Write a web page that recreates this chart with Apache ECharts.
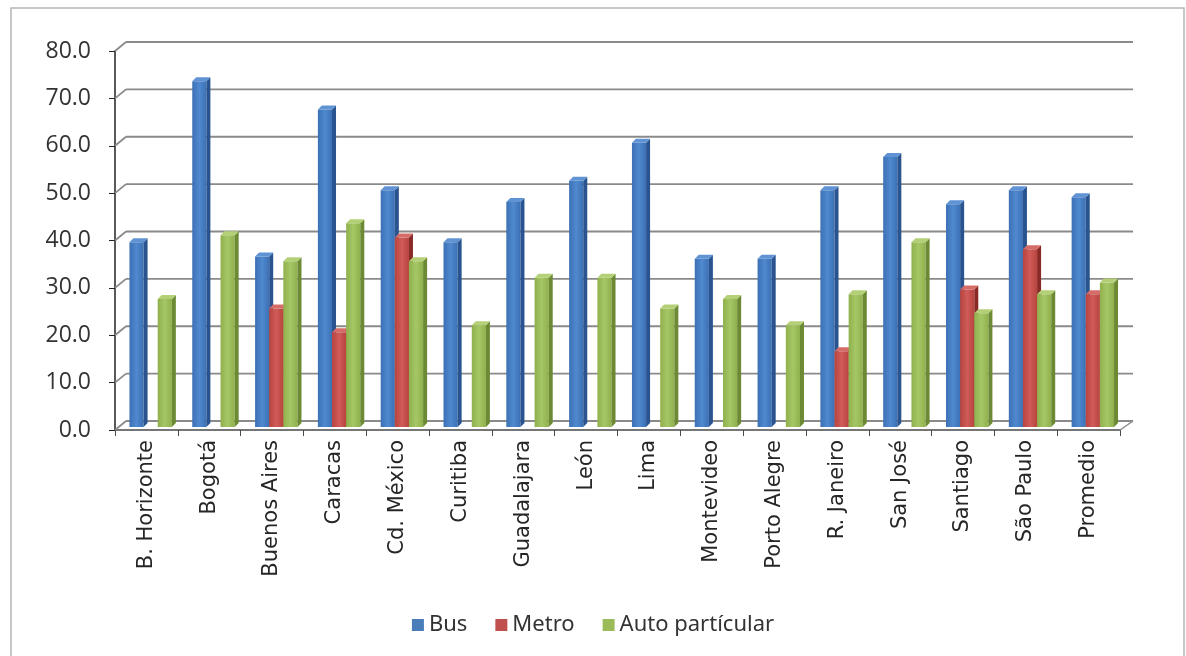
<!DOCTYPE html>
<html>
<head>
<meta charset="utf-8">
<script src="https://cdn.jsdelivr.net/npm/echarts@6/dist/echarts.min.js"></script>
<style>
html,body{margin:0;padding:0;background:#fff;}
#chart{width:1186px;height:656px;}
</style>
</head>
<body>
<div id="chart"></div>
<script>
const categories = ['B. Horizonte','Bogotá','Buenos Aires','Caracas','Cd. México','Curitiba','Guadalajara','León','Lima','Montevideo','Porto Alegre','R. Janeiro','San José','Santiago','São Paulo','Promedio'];
const busData   = [39, 73, 36, 67, 50, 39, 47.5, 52, 60, 35.5, 35.5, 50, 57, 47, 50, 48.5];
const metroData = [null, null, 25, 20, 40, null, null, null, null, null, null, 16, null, 29, 37.5, 28];
const autoData  = [27, 40.5, 35, 43, 35, 21.5, 31.5, 31.5, 25, 27, 21.5, 28, 39, 24, 28, 30.5];
const yTicks = [0, 10, 20, 30, 40, 50, 60, 70, 80];
const seriesNames = ['Bus', 'Metro', 'Auto partícular'];

const palettes = [
  {front: ['#3c70b4', '#5089cf'], side: '#2a5490', top: '#5f93d3', legend: '#4a7ebb'},
  {front: ['#b8433f', '#cf5c58'], side: '#8a2a27', top: '#d56c68', legend: '#c0504d'},
  {front: ['#8fb04c', '#a6c766'], side: '#6c8a33', top: '#b3d076', legend: '#9bbb59'}
];

const WALL_DX = 11, WALL_DY = -9;
const BAR_SHIFT_Y = -3, DEPTH_X = 4, DEPTH_Y = -4;

function barRenderer(k) {
  const pal = palettes[k];
  return function (params, api) {
    const v = api.value(1);
    if (v === null || v === undefined || isNaN(v)) return null;
    const idx = api.value(0);
    const top = api.coord([idx, v]);
    const base = api.coord([idx, 0]);
    const band = api.size([1, 0])[0];
    const w = band * 0.225;
    const x0 = top[0] - band * 0.27 + k * w;
    const x1 = x0 + w;
    const yt = top[1] + BAR_SHIFT_Y;
    const yb = base[1] + BAR_SHIFT_Y;
    return {
      type: 'group',
      children: [
        {type: 'rect', shape: {x: x0, y: yt, width: w, height: yb - yt},
          style: {fill: new echarts.graphic.LinearGradient(0, 0, 1, 0, [
            {offset: 0, color: pal.front[0]}, {offset: 0.5, color: pal.front[1]}, {offset: 1, color: pal.front[0]}])}},
        {type: 'polygon', shape: {points: [[x1, yt], [x1 + DEPTH_X, yt + DEPTH_Y], [x1 + DEPTH_X, yb + DEPTH_Y], [x1, yb]]},
          style: {fill: pal.side}},
        {type: 'polygon', shape: {points: [[x0, yt], [x0 + DEPTH_X, yt + DEPTH_Y], [x1 + DEPTH_X, yt + DEPTH_Y], [x1, yt]]},
          style: {fill: pal.top}}
      ]
    };
  };
}

function wallRenderer(params, api) {
  const cs = params.coordSys;
  const y = api.coord([0, api.value(1)])[1];
  const xl = cs.x, xr = cs.x + cs.width;
  const children = [
    {type: 'line', shape: {x1: xl, y1: y, x2: xl + WALL_DX, y2: y + WALL_DY},
      style: {stroke: '#8a8a8a', lineWidth: 1.8}},
    {type: 'line', shape: {x1: xl + WALL_DX, y1: y + WALL_DY, x2: xr + WALL_DX + 2, y2: y + WALL_DY},
      style: {stroke: '#8a8a8a', lineWidth: 1.8}}
  ];
  if (api.value(1) === 0) {
    children.push({type: 'line', shape: {x1: xr, y1: y, x2: xr + WALL_DX + 2, y2: y + WALL_DY},
      style: {stroke: '#8a8a8a', lineWidth: 1.5}});
  }
  return {type: 'group', children: children};
}

function toPairs(arr) { return arr.map((v, i) => [i, v]); }

const chart = echarts.init(document.getElementById('chart'), null, {renderer: 'canvas'});
const option = {
  backgroundColor: '#ffffff',
  animation: false,
  graphic: [{
    type: 'rect', shape: {x: 11, y: 8, width: 1173, height: 700},
    style: {fill: 'none', stroke: '#b5b5b5', lineWidth: 1.5}, silent: true
  }],
  grid: {left: 115, right: 66, top: 51, bottom: 226, containLabel: false},
  legend: {
    data: seriesNames.map((n, i) => ({name: n, itemStyle: {color: palettes[i].legend}})),
    icon: 'rect', itemWidth: 12, itemHeight: 12, itemGap: 28,
    left: 'center', top: 609,
    textStyle: {fontSize: 22, color: '#333', fontFamily: '"Liberation Sans Narrow", "Noto Sans", sans-serif'}
  },
  xAxis: {
    type: 'category', data: categories,
    axisLine: {lineStyle: {color: '#4a4a4a', width: 1.5}},
    axisTick: {show: true, length: 6, lineStyle: {color: '#4a4a4a'}},
    axisLabel: {rotate: 90, interval: 0, fontSize: 21, color: '#262626', margin: 10,
      fontFamily: '"DejaVu Sans", Verdana, sans-serif'},
    splitLine: {show: false}
  },
  yAxis: {
    type: 'value', min: 0, max: 80, interval: 10,
    axisLine: {show: true, lineStyle: {color: '#222', width: 1.5}},
    axisTick: {show: true, length: 6, lineStyle: {color: '#222'}},
    axisLabel: {formatter: v => v.toFixed(1), fontSize: 23, color: '#333', margin: 24,
      fontFamily: '"Open Sans", sans-serif'},
    splitLine: {show: false}
  },
  series: [
    {type: 'custom', name: '_walls', renderItem: wallRenderer, data: yTicks.map(v => [0, v]),
      encode: {x: 0, y: 1}, silent: true, z: 1},
    {type: 'custom', name: seriesNames[0], renderItem: barRenderer(0), data: toPairs(busData),
      encode: {x: 0, y: 1}, itemStyle: {color: palettes[0].legend}, z: 3},
    {type: 'custom', name: seriesNames[1], renderItem: barRenderer(1), data: toPairs(metroData),
      encode: {x: 0, y: 1}, itemStyle: {color: palettes[1].legend}, z: 4},
    {type: 'custom', name: seriesNames[2], renderItem: barRenderer(2), data: toPairs(autoData),
      encode: {x: 0, y: 1}, itemStyle: {color: palettes[2].legend}, z: 5}
  ]
};
chart.setOption(option);
</script>
</body>
</html>
